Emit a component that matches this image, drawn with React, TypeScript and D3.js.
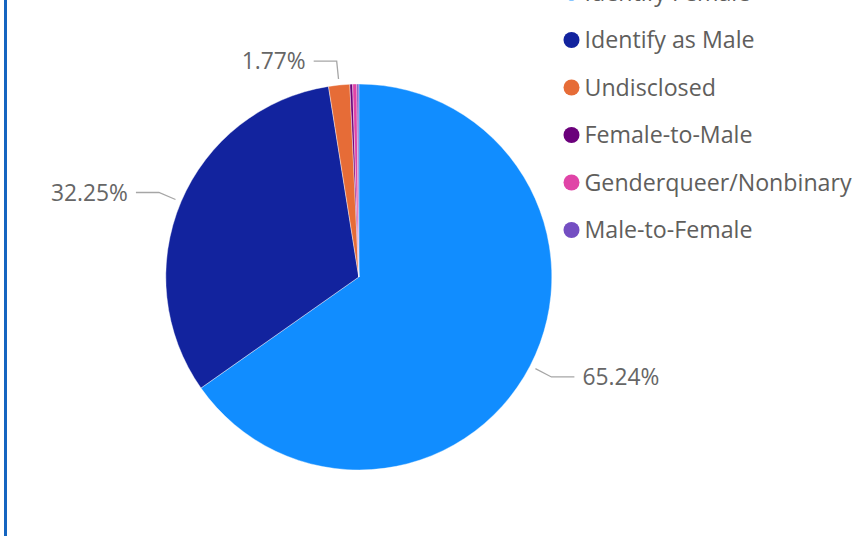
import React, { useEffect, useRef } from 'react';
import * as d3 from 'd3';

const categories = ['Identify Female', 'Identify as Male', 'Undisclosed', 'Female-to-Male', 'Genderqueer/Nonbinary', 'Male-to-Female'];
const shares = [65.24, 32.25, 1.77, 0.23, 0.35, 0.16];
const colors = ['#118DFF', '#12239E', '#E66C37', '#6B007B', '#E044A7', '#744EC2'];
// only these slices carry a data label
const labelled = [true, true, true, false, false, false];

const W = 864;
const H = 536;
const FONT = '"Open Sans", "Noto Sans", sans-serif';

export default function App() {
  const ref = useRef<SVGSVGElement>(null);

  useEffect(() => {
    const svg = d3.select(ref.current);
    svg.selectAll('*').remove();

    // left accent border
    svg.append('rect')
      .attr('x', 4)
      .attr('y', 0)
      .attr('width', 3)
      .attr('height', H)
      .attr('fill', '#1565C0');

    const cx = 358.8;
    const cy = 277;
    const r = 193;

    const data = categories.map((c, i) => ({ name: c, value: shares[i], color: colors[i], lab: labelled[i] }));

    const pie = d3.pie<any>().value(d => d.value).sort(null);
    const arcs = pie(data);
    const arc = d3.arc<any>().innerRadius(0).outerRadius(r);

    const g = svg.append('g').attr('transform', `translate(${cx},${cy})`);

    g.selectAll('path.slice')
      .data(arcs)
      .enter()
      .append('path')
      .attr('class', 'slice')
      .attr('d', arc)
      .attr('fill', d => d.data.color)
      .attr('stroke', '#ffffff')
      .attr('stroke-width', 0.4);

    // leader lines + labels
    const fmt = (v: number) => `${v.toFixed(2)}%`;
    arcs.filter(a => a.data.lab).forEach(a => {
      const mid = (a.startAngle + a.endAngle) / 2;
      const p = (rad: number) => [rad * Math.sin(mid), -rad * Math.cos(mid)];
      const [x0, y0] = p(r + 6);
      const [x1, y1] = p(r + 24);
      const right = Math.sin(mid) > 0;
      const x2 = x1 + (right ? 23 : -23);
      g.append('polyline')
        .attr('points', `${x0},${y0} ${x1},${y1} ${x2},${y1}`)
        .attr('fill', 'none')
        .attr('stroke', '#a6a6a6')
        .attr('stroke-width', 1.3);
      g.append('text')
        .attr('x', x2 + (right ? 8 : -8))
        .attr('y', y1)
        .attr('dy', '0.35em')
        .attr('text-anchor', right ? 'start' : 'end')
        .attr('font-family', FONT)
        .attr('font-size', 22.8)
        .attr('fill', '#666666')
        .text(fmt(a.data.value));
    });

    // legend (first row sits partly above the top edge, as in the source view)
    const ly = d3.scalePoint<string>().domain(categories).range([-7.5, 230]);
    const lg = svg.append('g');
    categories.forEach((c, i) => {
      const y = ly(c) as number;
      lg.append('circle')
        .attr('cx', 571.5)
        .attr('cy', y)
        .attr('r', 8)
        .attr('fill', colors[i]);
      lg.append('text')
        .attr('x', 584.5)
        .attr('y', y)
        .attr('dy', '0.35em')
        .attr('font-family', FONT)
        .attr('font-size', 23.2)
        .attr('fill', '#605E5C')
        .text(c);
    });
  }, []);

  return (
    <svg
      ref={ref}
      width={W}
      height={H}
      style={{ position: 'fixed', left: 0, top: 0, background: '#ffffff' }}
    />
  );
}
